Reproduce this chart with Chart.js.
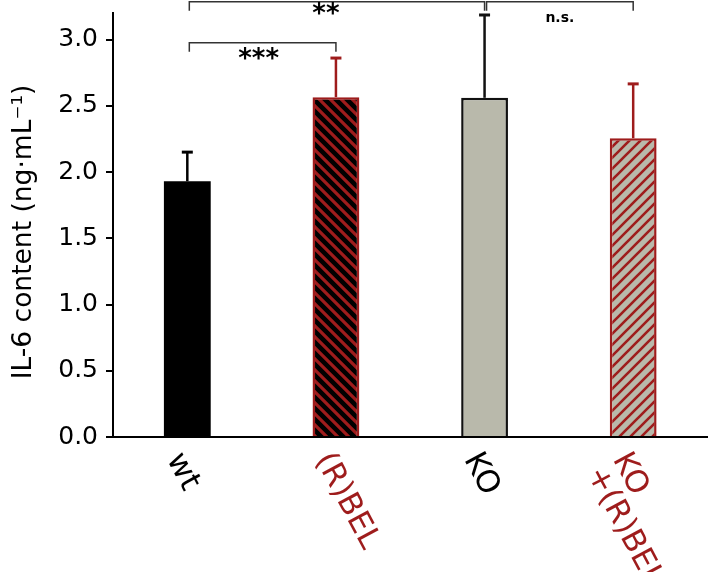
<!DOCTYPE html>
<html>
<head>
<meta charset="utf-8">
<script src="https://cdn.jsdelivr.net/npm/chart.js@4.4.1/dist/chart.umd.min.js"></script>
<style>
  html, body { margin: 0; padding: 0; background: #fff; }
</style>
</head>
<body>
<canvas id="il6" width="709" height="572"></canvas>
<script>
// values
const groups = ['wt', '(R)BEL', 'KO', 'KO\n+(R)BEL'];
const il6Mean = [1.93, 2.565, 2.56, 2.255];
const il6Err = [0.22, 0.295, 0.625, 0.41];
const yTicks = [0, 0.5, 1.0, 1.5, 2.0, 2.5, 3.0];
const yTitle = 'IL-6 content (ng·mL⁻¹)';
// significance brackets (group index from / to, bracket level in y units, mark)
const sigFrom = [0, 0, 2];
const sigTo = [1, 2, 3];
const sigLevel = [2.975, 3.285, 3.285];
const sigText = ['***', '**', 'n.s.'];

const RED = '#9e1c1c';
const GRAY = '#b9b9ab';
const FONT = "'DejaVu Sans', 'Liberation Sans', Arial, sans-serif";

// diagonal hatch fill, dir 'back' = \\\ , 'fwd' = ///
function stripes(bg, fg, w, dir) {
  const s = 11;
  const c = document.createElement('canvas');
  c.width = s; c.height = s;
  const g = c.getContext('2d');
  g.fillStyle = bg;
  g.fillRect(0, 0, s, s);
  g.strokeStyle = fg;
  g.lineWidth = w;
  g.beginPath();
  for (let k = -1; k <= 2; k++) {
    if (dir === 'back') {
      g.moveTo(k * s - s, -s); g.lineTo(k * s + 2 * s, 2 * s);
    } else {
      g.moveTo(k * s + s, -s); g.lineTo(k * s - 2 * s, 2 * s);
    }
  }
  g.stroke();
  return g.createPattern(c, 'repeat');
}

const barFill = ['#000', stripes('#000', RED, 3.2, 'back'), GRAY, stripes(GRAY, RED, 2.6, 'fwd')];
const edgeColor = ['#000', RED, '#111', RED];
const edgeWidth = [0, 2.5, 2.5, 2.5];

const errorBars = {
  id: 'errorBars',
  afterDatasetsDraw(chart) {
    const {ctx, scales: {x, y}} = chart;
    ctx.save();
    il6Mean.forEach((m, i) => {
      const px = x.getPixelForValue(i);
      const y0 = y.getPixelForValue(m);
      const y1 = y.getPixelForValue(m + il6Err[i]);
      ctx.strokeStyle = edgeColor[i];
      ctx.lineWidth = 2.5;
      ctx.beginPath(); ctx.moveTo(px, y0); ctx.lineTo(px, y1); ctx.stroke();
      ctx.lineWidth = 3;
      ctx.beginPath(); ctx.moveTo(px - 5.5, y1); ctx.lineTo(px + 5.5, y1); ctx.stroke();
    });
    ctx.restore();
  }
};

// text nudges for the bracket marks, pixels
const sigShift = [-4, -11, 0];
const sigDrop = [24, 20, 20];
const brackets = {
  id: 'brackets',
  afterDraw(chart) {
    const {ctx, scales: {x, y}} = chart;
    ctx.save();
    ctx.strokeStyle = '#333';
    ctx.lineWidth = 1.5;
    ctx.fillStyle = '#000';
    ctx.textAlign = 'center';
    ctx.textBaseline = 'alphabetic';
    sigText.forEach((t, i) => {
      const xa = x.getPixelForValue(sigFrom[i]) + 2;
      const xb = x.getPixelForValue(sigTo[i]);
      const yl = y.getPixelForValue(sigLevel[i]);
      ctx.beginPath();
      ctx.moveTo(xa, yl + 9); ctx.lineTo(xa, yl); ctx.lineTo(xb, yl); ctx.lineTo(xb, yl + 9);
      ctx.stroke();
      ctx.font = 'bold ' + (t === 'n.s.' ? 14 : 26) + 'px ' + FONT;
      ctx.fillText(t, (xa + xb) / 2 + sigShift[i], yl + sigDrop[i]);
    });
    ctx.restore();
  }
};

const axisText = {
  id: 'axisText',
  afterDraw(chart) {
    const {ctx, scales: {x, y}} = chart;
    ctx.save();
    // y title, a little below the scale centre as in the figure
    ctx.font = '26.5px ' + FONT;
    ctx.fillStyle = '#000';
    ctx.textAlign = 'center';
    ctx.textBaseline = 'middle';
    ctx.translate(24, (y.top + y.bottom) / 2 + 7);
    ctx.rotate(-Math.PI / 2);
    ctx.fillText(yTitle, 0, 0);
    ctx.restore();

    const size = 31;
    ctx.save();
    ctx.font = size + 'px ' + FONT;
    ctx.textAlign = 'left';
    ctx.textBaseline = 'top';
    groups.forEach((g, i) => {
      ctx.save();
      ctx.translate(x.getPixelForValue(i), x.top + 11);
      ctx.rotate(62 * Math.PI / 180);
      ctx.fillStyle = edgeColor[i] === RED ? RED : '#000';
      g.split('\n').forEach((line, j) => ctx.fillText(line, 0, j * size * 0.95));
      ctx.restore();
    });
    ctx.restore();
  }
};

new Chart(document.getElementById('il6'), {
  type: 'bar',
  data: {
    labels: groups,
    datasets: [{
      data: il6Mean,
      backgroundColor: barFill,
      borderColor: edgeColor,
      borderWidth: edgeWidth,
      categoryPercentage: 1,
      barPercentage: 0.315
    }]
  },
  options: {
    responsive: false,
    animation: false,
    layout: { padding: { top: 13, right: 1.5, left: 0, bottom: 0 } },
    plugins: { legend: { display: false }, tooltip: { enabled: false } },
    scales: {
      x: {
        grid: { display: true, drawOnChartArea: false, drawTicks: false },
        border: { color: '#000', width: 2 },
        ticks: { display: false },
        afterFit(s) { s.height = 135; }
      },
      y: {
        min: 0,
        max: 3.2,
        afterBuildTicks(s) { s.ticks = yTicks.map(v => ({ value: v })); },
        afterFit(s) { s.width = 113; s.paddingTop = 0; s.paddingBottom = 0; },
        grid: { drawOnChartArea: false, drawTicks: true, tickLength: 7, color: '#000', lineWidth: 2 },
        border: { color: '#000', width: 2 },
        ticks: {
          padding: 8,
          color: '#000',
          font: { family: FONT, size: 25 },
          callback: v => v.toFixed(1)
        }
      }
    }
  },
  plugins: [errorBars, brackets, axisText]
});
</script>
</body>
</html>
